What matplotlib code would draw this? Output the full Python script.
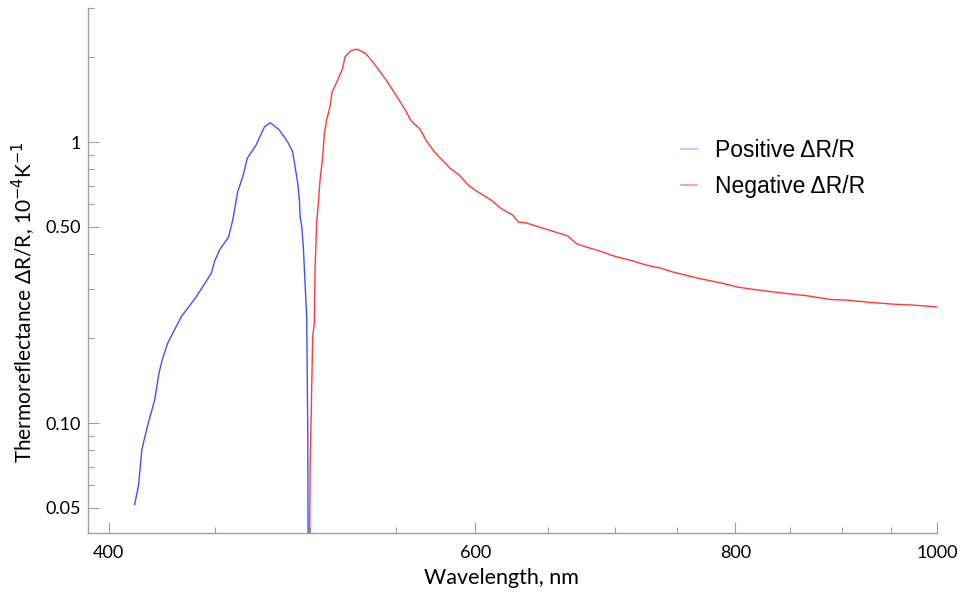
import matplotlib
matplotlib.use("Agg")
import matplotlib.pyplot as plt
from matplotlib.lines import Line2D
from matplotlib.ticker import FixedLocator, NullFormatter, FixedFormatter

# Positive dR/R (blue)
pos_wl = [411.7, 413.5, 415.0, 417.7, 420.9, 422.9, 424.4, 427.1, 433.5, 440.7,
          448.1, 449.7, 452.2, 456.7, 458.9, 461.4, 464.0, 466.3, 470.9, 475.3,
          478.4, 483.2, 487.6, 490.3, 493.1, 494.0, 494.4, 495.3, 496.2, 497.1,
          498.0, 498.6, 499.0]
pos_val = [0.0513, 0.0601, 0.0805, 0.0983, 0.1206, 0.150, 0.1675, 0.193, 0.239, 0.281,
           0.341, 0.375, 0.413, 0.458, 0.528, 0.665, 0.753, 0.875, 0.976, 1.134,
           1.171, 1.103, 1.002, 0.924, 0.713, 0.622, 0.542, 0.4995, 0.418, 0.314,
           0.239, 0.092, 0.01]

# Negative dR/R (red)
neg_wl = [499.1, 499.9, 500.4, 501.3, 502.2, 502.6, 503.5, 504.6, 505.4, 506.9,
          507.8, 509.1, 511.0, 512.2, 515.4, 518.2, 519.6, 523.0, 526.5, 531.4,
          535.7, 543.7, 549.7, 554.8, 558.9, 564.5, 568.2, 573.5, 583.7, 589.5,
          596.1, 602.7, 610.6, 617.3, 625.3, 629.5, 634.6, 648.8, 664.4, 671.8,
          688.1, 701.0, 714.0, 724.7, 735.5, 746.4, 768.8, 786.0, 803.5, 821.6,
          837.0, 868.3, 889.3, 904.2, 927.3, 951.6, 972.8, 1000.0]
neg_val = [0.01, 0.0718, 0.0997, 0.2027, 0.226, 0.350, 0.514, 0.622, 0.732, 0.887,
           1.074, 1.198, 1.336, 1.510, 1.662, 1.830, 2.012, 2.114, 2.143, 2.069,
           1.931, 1.662, 1.470, 1.318, 1.191, 1.112, 1.016, 0.924, 0.806, 0.763,
           0.697, 0.660, 0.622, 0.581, 0.550, 0.519, 0.516, 0.490, 0.464, 0.433,
           0.410, 0.391, 0.378, 0.365, 0.357, 0.345, 0.327, 0.316, 0.304, 0.297,
           0.292, 0.283, 0.275, 0.274, 0.269, 0.265, 0.263, 0.259]

x_major = [400, 600, 800, 1000]
x_major_labels = ["400", "600", "800", "1000"]
x_minor = [450, 500, 550, 650, 700, 750, 850, 900, 950]
y_major = [0.05, 0.1, 0.5, 1]
y_major_labels = ["0.05", "0.10", "0.50", "1"]
y_minor = [0.06, 0.07, 0.08, 0.09, 0.2, 0.3, 0.4, 0.6, 0.7, 0.8, 0.9, 2, 3]

blue = "#3a55ff"
red = "#ff3a3a"
axis_gray = "#a0a0a0"
tick_font = "Lato"

fig = plt.figure(figsize=(9.63, 6.01), dpi=100)
ax = fig.add_axes([88/963, 1-533/601, (937-88)/963, (533-8)/601])

ax.plot(pos_wl, pos_val, color=blue, lw=1.0)
ax.plot(neg_wl, neg_val, color=red, lw=1.0)

ax.set_xscale("log")
ax.set_yscale("log")
ax.set_xlim(391, 1000)
ax.set_ylim(0.0406, 3.0)

ax.xaxis.set_major_locator(FixedLocator(x_major))
ax.xaxis.set_major_formatter(FixedFormatter(x_major_labels))
ax.xaxis.set_minor_locator(FixedLocator(x_minor))
ax.xaxis.set_minor_formatter(NullFormatter())
ax.yaxis.set_major_locator(FixedLocator(y_major))
ax.yaxis.set_major_formatter(FixedFormatter(y_major_labels))
ax.yaxis.set_minor_locator(FixedLocator(y_minor))
ax.yaxis.set_minor_formatter(NullFormatter())

for s in ["top", "right"]:
    ax.spines[s].set_visible(False)
for s in ["left", "bottom"]:
    ax.spines[s].set_color(axis_gray)
    ax.spines[s].set_linewidth(1.0)

ax.tick_params(which="both", direction="in", color=axis_gray, width=0.8)
ax.tick_params(which="major", length=8)
ax.tick_params(which="minor", length=4)
ax.tick_params(axis="x", which="major", pad=9, labelsize=13)
ax.tick_params(axis="y", which="major", pad=5, labelsize=13)
for lab in ax.get_xticklabels() + ax.get_yticklabels():
    lab.set_family(tick_font)

ax.set_xlabel("Wavelength, nm", fontsize=15.5, family=tick_font)
ax.set_ylabel("Thermoreflectance ΔR/R, 10$^{-4}$K$^{-1}$", fontsize=15,
              family=tick_font)
ax.xaxis.set_label_coords((501-88)/849, -(568-533)/525)
ax.yaxis.set_label_coords(-(88-38)/849, (533-302)/525)

handles = [Line2D([], [], color=blue, lw=1.5, alpha=0.3),
           Line2D([], [], color=red, lw=1.1, alpha=0.6)]
ax.legend(handles, ["Positive ΔR/R", "Negative ΔR/R"], frameon=False,
          loc="upper left", bbox_to_anchor=(681/963, 1-139/601),
          bbox_transform=fig.transFigure, borderpad=0, borderaxespad=0,
          handlelength=0.7, handletextpad=0.8, labelspacing=0.56,
          prop={"family": "Liberation Sans", "size": 16.5})

fig.savefig("out.png", dpi=100)
